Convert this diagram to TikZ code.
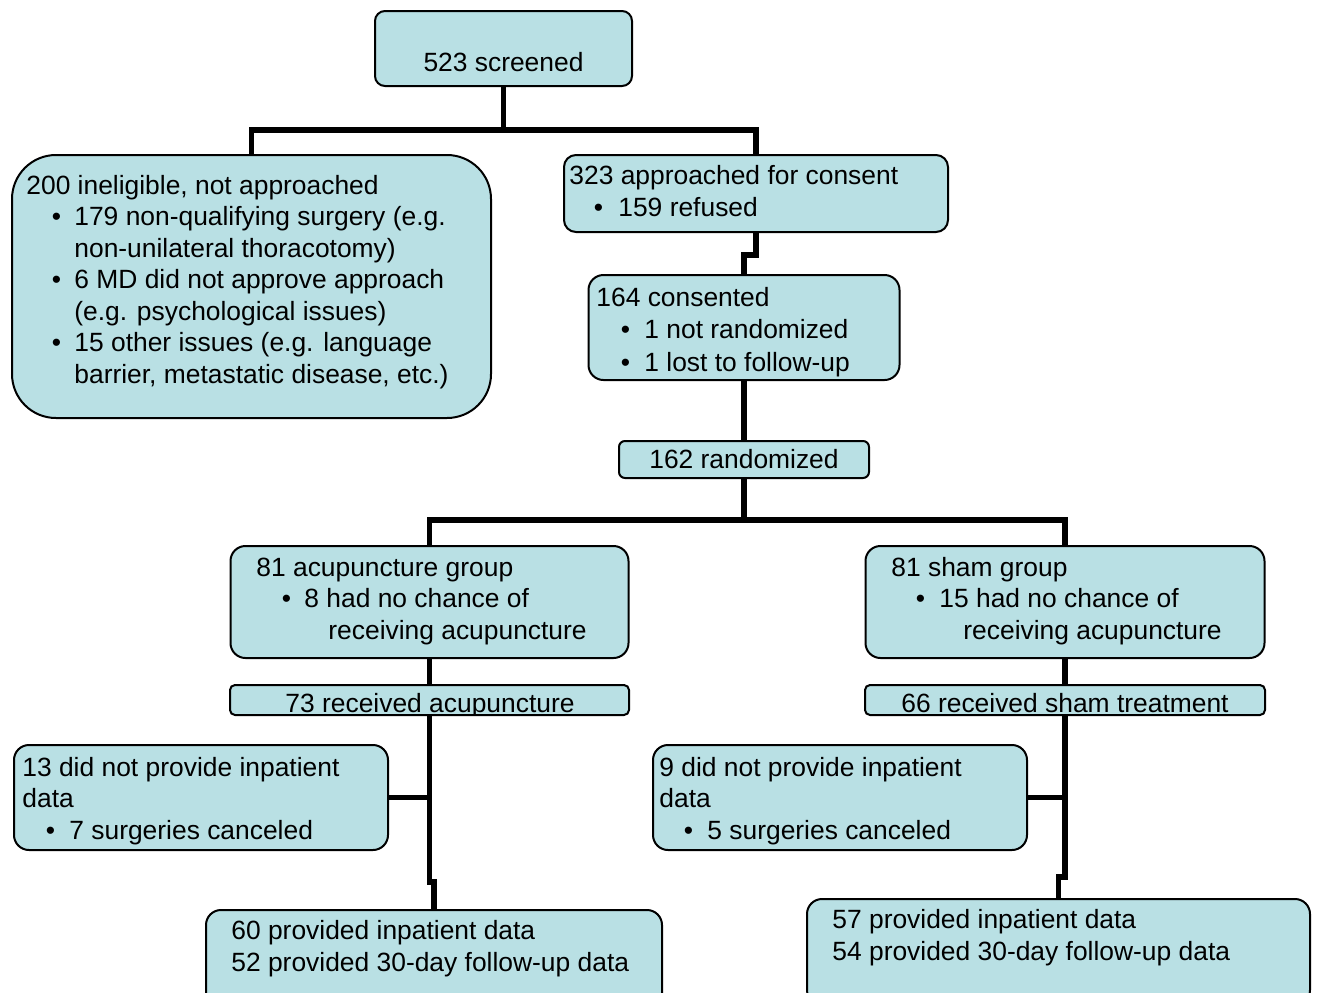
\documentclass[tikz,border=0pt]{standalone}
\usepackage{fontspec}
\setmainfont{Liberation Sans}
\usetikzlibrary{calc}
\definecolor{boxc}{RGB}{185,224,228}
\newcommand\bl[3]{\hspace*{#1}\makebox[0pt]{\textbullet}\hspace{#2}#3}
\begin{document}
\begin{tikzpicture}[x=0.5pt,y=-0.5pt,
  box/.style={draw=black,line width=1pt,fill=boxc,inner sep=0pt},
  conn/.style={draw=black,line width=2.6pt},
  txt/.style={anchor=base west,inner sep=0pt,align=left,font=\fontsize{13.2}{15.75}\selectfont},
  ctxt/.style={anchor=base,inner sep=0pt,font=\fontsize{13.2}{15.75}\selectfont}]
\useasboundingbox[fill=white] (0,0) rectangle (1318,992);
\clip (0,0) rectangle (1318,992);
% boxes
\node[box,rounded corners=5pt,minimum width=128.5pt,minimum height=37.5pt] (A) at (503.5,48.5) {};
\node[box,rounded corners=22pt,minimum width=239.5pt,minimum height=131.5pt] (B) at (251.5,286.5) {};
\node[box,rounded corners=6pt,minimum width=192pt,minimum height=38.5pt] (C) at (756,193.5) {};
\node[box,rounded corners=7.5pt,minimum width=155.5pt,minimum height=52.5pt] (D) at (744,327.5) {};
\node[box,rounded corners=3pt,minimum width=125pt,minimum height=18.5pt] (E) at (744,459.5) {};
\node[box,rounded corners=7.5pt,minimum width=199pt,minimum height=56pt] (F) at (429.5,602) {};
\node[box,rounded corners=7.5pt,minimum width=199.5pt,minimum height=56pt] (G) at (1065,602) {};
\node[box,rounded corners=2.5pt,minimum width=199.5pt,minimum height=15pt] (H) at (429.5,700) {};
\node[box,rounded corners=2.5pt,minimum width=200pt,minimum height=15pt] (I) at (1065,700) {};
\node[box,rounded corners=7.5pt,minimum width=187pt,minimum height=52.5pt] (J) at (201,797.5) {};
\node[box,rounded corners=7.5pt,minimum width=187pt,minimum height=52.5pt] (K) at (840,797.5) {};
\node[box,rounded corners=7.5pt,minimum width=228pt,minimum height=50pt] (L) at (434,960) {};
\node[box,rounded corners=7.5pt,minimum width=251.5pt,minimum height=53pt] (M) at (1058.5,952) {};
% junction coordinates
\coordinate (j1) at (503.5,130);
\coordinate (j2) at (756,255);
\coordinate (j3) at (744,520);
\coordinate (j4) at (429.5,882);
\coordinate (j5) at (1065,877);
% connectors
\draw[conn] (A.south) -- (j1) -| (B.north);
\draw[conn] (j1) -| (C.north);
\draw[conn] (C.south) -- (j2) -| (D.north);
\draw[conn] (D.south) -- (E.north);
\draw[conn] (E.south) -- (j3) -| (F.north);
\draw[conn] (j3) -| (G.north);
\draw[conn] (F.south) -- (H.north);
\draw[conn] (G.south) -- (I.north);
\draw[conn] (H.south) -- (j4) -| (L.north);
\draw[conn] (I.south) -- (j5) -| (M.north);
\draw[conn] (J.east) -- (J.east -| H.south);
\draw[conn] (K.east) -- (K.east -| I.south);
% texts (multi-line nodes are placed by the baseline of their last line)
\node[ctxt] (tA) at (503.5,71) {523 screened};
\node[txt] (tB) at (26,383) {200 ineligible, not approached\\
\bl{15pt}{9pt}{179 non-qualifying surgery (e.g.}\\
\hspace*{24pt}non-unilateral thoracotomy)\\
\bl{15pt}{9pt}{6 MD did not approve approach}\\
\hspace*{24pt}(e.g. psychological issues)\\
\bl{15pt}{9pt}{15 other issues (e.g. language}\\
\hspace*{24pt}barrier, metastatic disease, etc.)};
\node[txt] (tC) at (569,216) {323 approached for consent\\
\bl{14.5pt}{10pt}{159 refused}};
\node[txt,font=\fontsize{13.2}{16.25}\selectfont] (tD) at (596,371) {164 consented\\
\bl{14.5pt}{9.5pt}{1 not randomized}\\
\bl{14.5pt}{9.5pt}{1 lost to follow-up}};
\node[ctxt] (tE) at (744,468) {162 randomized};
\node[txt] (tF) at (256,639) {81 acupuncture group\\
\bl{15pt}{9pt}{8 had no chance of}\\
\hspace*{36pt}receiving acupuncture};
\node[txt] (tG) at (891,639) {81 sham group\\
\bl{14.5pt}{9.5pt}{15 had no chance of}\\
\hspace*{36pt}receiving acupuncture};
\begin{scope}
\clip (231,686) rectangle (628,714);
\node[ctxt] (tH) at (430,712) {73 received acupuncture};
\end{scope}
\begin{scope}
\clip (866,686) rectangle (1264,714);
\node[ctxt] (tI) at (1065,712) {66 received sham treatment};
\end{scope}
\node[txt] (tJ) at (22,839) {13 did not provide inpatient\\
data\\
\bl{14pt}{9.5pt}{7 surgeries canceled}};
\node[txt] (tK) at (659,839) {9 did not provide inpatient\\
data\\
\bl{14.5pt}{9.5pt}{5 surgeries canceled}};
\node[txt] (tL) at (231,971) {60 provided inpatient data\\
52 provided 30-day follow-up data};
\node[txt] (tM) at (832,960) {57 provided inpatient data\\
54 provided 30-day follow-up data};
\end{tikzpicture}
\end{document}
